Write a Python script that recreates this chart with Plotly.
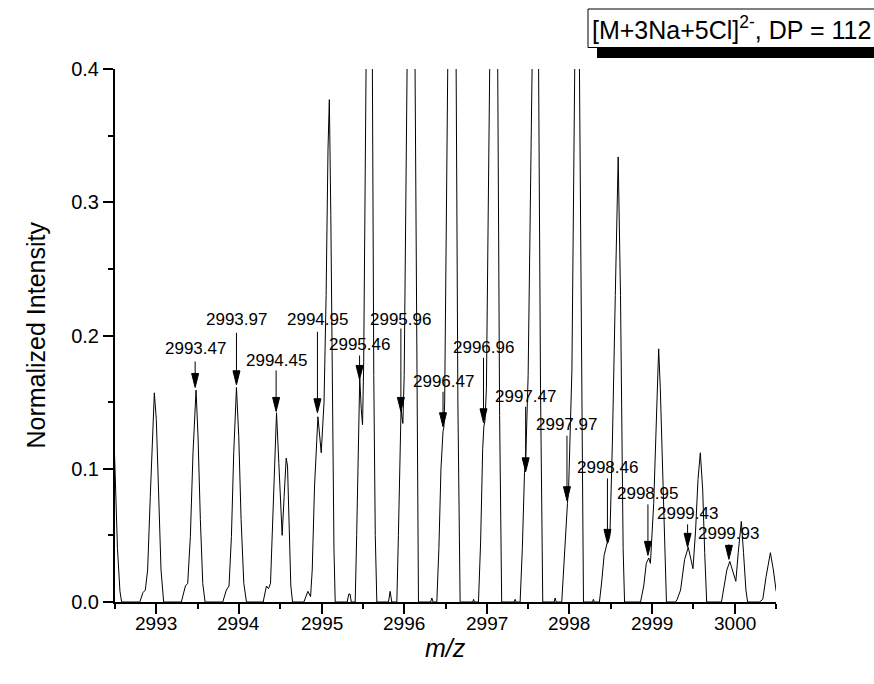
import plotly.graph_objects as go

# ---- spectrum profile (m/z, normalized intensity) ----
mz = [
    2992.44, 2992.47, 2992.50, 2992.53, 2992.56, 2992.58, 2992.80,
    2992.838, 2992.867, 2992.895, 2992.927, 2992.956, 2992.976, 2993.000, 2993.028, 2993.057, 2993.089,
    2993.303, 2993.352, 2993.380, 2993.412, 2993.444, 2993.481, 2993.505, 2993.533, 2993.562, 2993.590,
    2993.804, 2993.848, 2993.880, 2993.909, 2993.937, 2993.970, 2993.998, 2994.026, 2994.059, 2994.091,
    2994.293, 2994.333, 2994.358, 2994.382, 2994.410, 2994.430, 2994.455, 2994.483, 2994.523, 2994.547,
    2994.572, 2994.588, 2994.608, 2994.628, 2994.649,
    2994.786, 2994.834, 2994.867, 2994.887, 2994.915, 2994.956, 2994.996, 2995.030, 2995.055, 2995.078,
    2995.094, 2995.112, 2995.130, 2995.150, 2995.165,
    2995.310, 2995.330, 2995.345, 2995.360,
    2995.407, 2995.425, 2995.445, 2995.462, 2995.480, 2995.496, 2995.510, 2995.542, 2995.580, 2995.615,
    2995.632, 2995.650, 2995.669,
    2995.810, 2995.830, 2995.850,
    2995.911, 2995.930, 2995.948, 2995.962, 2995.975, 2995.984, 2996.000, 2996.035, 2996.080, 2996.132,
    2996.150, 2996.173,
    2996.320, 2996.335, 2996.350,
    2996.395, 2996.420, 2996.445, 2996.470, 2996.480, 2996.490, 2996.527, 2996.578, 2996.628, 2996.650,
    2996.677,
    2996.830, 2996.840, 2996.850,
    2996.899, 2996.925, 2996.950, 2996.965, 2996.978, 2996.995, 2997.035, 2997.083, 2997.132, 2997.155,
    2997.180,
    2997.330, 2997.343, 2997.355,
    2997.403, 2997.430, 2997.456, 2997.470, 2997.500, 2997.548, 2997.590, 2997.628, 2997.650, 2997.677,
    2997.815, 2997.827, 2997.840,
    2997.907, 2997.940, 2997.976, 2997.990, 2998.030, 2998.064, 2998.092, 2998.121, 2998.145, 2998.170,
    2998.280, 2998.290, 2998.300,
    2998.363, 2998.390, 2998.420, 2998.455, 2998.470, 2998.490, 2998.520, 2998.555, 2998.590, 2998.618,
    2998.635, 2998.650, 2998.667,
    2998.860, 2998.899, 2998.930, 2998.960, 2998.980, 2999.020, 2999.053, 2999.080, 2999.100, 2999.122,
    2999.150, 2999.174,
    2999.284, 2999.304, 2999.345, 2999.394, 2999.438, 2999.467, 2999.495, 2999.527, 2999.556, 2999.584,
    2999.613, 2999.637, 2999.661,
    2999.840, 2999.872, 2999.905, 2999.941, 2999.974, 3000.014, 3000.043, 3000.080, 3000.107, 3000.136,
    3000.156,
    3000.300, 3000.340, 3000.380, 3000.432, 3000.468, 3000.500, 3000.520,
]
intensity = [
    0.150, 0.156, 0.100, 0.040, 0.008, 0.000, 0.000,
    0.007, 0.009, 0.024, 0.079, 0.129, 0.157, 0.137, 0.074, 0.024, 0.000,
    0.000, 0.012, 0.014, 0.049, 0.112, 0.159, 0.124, 0.062, 0.014, 0.000,
    0.000, 0.009, 0.012, 0.049, 0.112, 0.161, 0.124, 0.062, 0.014, 0.000,
    0.000, 0.012, 0.010, 0.014, 0.062, 0.112, 0.142, 0.104, 0.050, 0.079,
    0.108, 0.102, 0.049, 0.012, 0.000,
    0.000, 0.008, 0.004, 0.024, 0.087, 0.139, 0.112, 0.150, 0.230, 0.340,
    0.377, 0.290, 0.150, 0.040, 0.000,
    0.000, 0.006, 0.006, 0.000,
    0.000, 0.050, 0.130, 0.168, 0.145, 0.133, 0.180, 0.400, 0.720, 0.400,
    0.170, 0.050, 0.000,
    0.000, 0.008, 0.000,
    0.000, 0.050, 0.120, 0.145, 0.138, 0.134, 0.170, 0.400, 0.900, 0.400,
    0.150, 0.000,
    0.000, 0.003, 0.000,
    0.000, 0.040, 0.100, 0.128, 0.131, 0.150, 0.400, 1.000, 0.400, 0.150,
    0.000,
    0.000, 0.002, 0.000,
    0.000, 0.045, 0.115, 0.132, 0.136, 0.160, 0.400, 0.900, 0.400, 0.140,
    0.000,
    0.000, 0.002, 0.000,
    0.000, 0.040, 0.097, 0.105, 0.170, 0.400, 0.780, 0.400, 0.160, 0.000,
    0.000, 0.003, 0.000,
    0.000, 0.040, 0.074, 0.085, 0.174, 0.400, 0.560, 0.400, 0.160, 0.000,
    0.000, 0.002, 0.000,
    0.000, 0.015, 0.035, 0.044, 0.045, 0.050, 0.120, 0.230, 0.334, 0.230,
    0.120, 0.040, 0.000,
    0.000, 0.012, 0.029, 0.033, 0.029, 0.074, 0.137, 0.190, 0.160, 0.112,
    0.037, 0.000,
    0.000, 0.002, 0.009, 0.032, 0.041, 0.032, 0.025, 0.054, 0.092, 0.112,
    0.084, 0.037, 0.000,
    0.000, 0.012, 0.024, 0.0305, 0.024, 0.0155, 0.037, 0.0605, 0.037, 0.009,
    0.000,
    0.000, 0.002, 0.019, 0.037, 0.024, 0.009, 0.004,
]

# ---- labelled isotope peaks ----
peak_labels = [2993.47, 2993.97, 2994.45, 2994.95, 2995.46, 2995.96, 2996.47,
               2996.96, 2997.47, 2997.97, 2998.46, 2998.95, 2999.43, 2999.93]
arrow_tips = [0.161, 0.163, 0.143, 0.142, 0.167, 0.143, 0.1315,
              0.1345, 0.0977, 0.076, 0.044, 0.035, 0.041, 0.032]

# layout-only: pixel lift of label text and of arrow-line top above each tip
label_lift_px = [39, 65, 51, 93, 35, 92, 45, 75, 75, 76, 76, 62, 34, 26]
line_top_px = [26, 52, 41, 81, 24, 83, 35, 65, 65, 65, 65, 51, 23, 15]

x_ticks = [2993, 2994, 2995, 2996, 2997, 2998, 2999, 3000]
y_ticks = [0.0, 0.1, 0.2, 0.3, 0.4]

FONT = "Liberation Sans, Arial, sans-serif"

fig = go.Figure()
fig.add_trace(go.Scatter(x=mz, y=intensity, mode="lines",
                         line=dict(color="black", width=1), hoverinfo="skip"))

shapes = []
annotations = []
for lab, tip, lift, top in zip(peak_labels, arrow_tips, label_lift_px, line_top_px):
    shapes.append(dict(
        type="path", xref="x", yref="y", xsizemode="pixel", ysizemode="pixel",
        xanchor=lab, yanchor=tip,
        path=f"M0,{top} L0,12 M-3.5,14 L3.5,14 L0,0 Z",
        line=dict(color="black", width=1), fillcolor="black", layer="above"))
    annotations.append(dict(
        x=lab, y=tip, xref="x", yref="y", text=f"{lab:.2f}", showarrow=False,
        yshift=lift, xanchor="center", yanchor="middle",
        font=dict(family=FONT, size=17, color="black")))

# x tick labels (placed as text just under the ticks)
for t in x_ticks:
    annotations.append(dict(
        x=t, xref="x", y=0, yref="paper", yshift=-21, xanchor="center", yanchor="middle",
        text=str(t), showarrow=False, font=dict(family=FONT, size=19, color="black")))

# title box with shadow (box runs off the right edge, as in the original)
L, T, W, H = 115, 69, 661, 533
def px_x(p):
    return (p - L) / W
def px_y(p):
    return (T + H - p) / H

shapes.append(dict(type="rect", xref="paper", yref="paper",
                   x0=px_x(597), x1=px_x(900), y0=px_y(58), y1=px_y(47),
                   fillcolor="black", line=dict(width=0), layer="above"))
shapes.append(dict(type="rect", xref="paper", yref="paper",
                   x0=px_x(588), x1=px_x(900), y0=px_y(47.5), y1=px_y(9),
                   fillcolor="white", line=dict(color="black", width=1), layer="above"))
annotations.append(dict(
    xref="paper", yref="paper", x=px_x(590), y=px_y(28), xanchor="left", yanchor="middle",
    text="[M+3Na+5Cl]<sup>2-</sup>, DP = 112", showarrow=False,
    font=dict(family=FONT, size=25, color="black")))

# axis titles
annotations.append(dict(xref="paper", yref="paper", x=0.5, y=0, yshift=-46,
                        xanchor="center", yanchor="middle", showarrow=False,
                        text="<i>m/z</i>", font=dict(family=FONT, size=25, color="black")))
annotations.append(dict(xref="paper", yref="paper", x=0, y=0.5, xshift=-80,
                        xanchor="center", yanchor="middle", showarrow=False, textangle=-90,
                        text="Normalized Intensity", font=dict(family=FONT, size=25, color="black")))

axis_common = dict(showgrid=False, zeroline=False, showline=True, linecolor="black",
                   linewidth=2, ticks="outside", ticklen=10, tickwidth=1.5, tickcolor="black",
                   tickfont=dict(family=FONT, size=20, color="black"), mirror=False)

fig.update_layout(
    width=874, height=684,
    margin=dict(l=L, r=874 - L - W, t=T, b=684 - T - H),
    paper_bgcolor="white", plot_bgcolor="white",
    showlegend=False,
    shapes=shapes, annotations=annotations,
    xaxis=dict(range=[2992.5, 3000.5], tickvals=x_ticks, showticklabels=False,
               minor=dict(dtick=0.5, tick0=2992.5, ticks="outside", ticklen=5, tickwidth=1.5,
                          tickcolor="black"),
               **axis_common),
    yaxis=dict(range=[0, 0.4], tickvals=y_ticks, ticktext=[f"{v:.1f}" for v in y_ticks],
               minor=dict(dtick=0.05, tick0=0, ticks="outside", ticklen=5, tickwidth=1.5,
                          tickcolor="black"),
               **axis_common),
)

fig.write_html("out.html")
